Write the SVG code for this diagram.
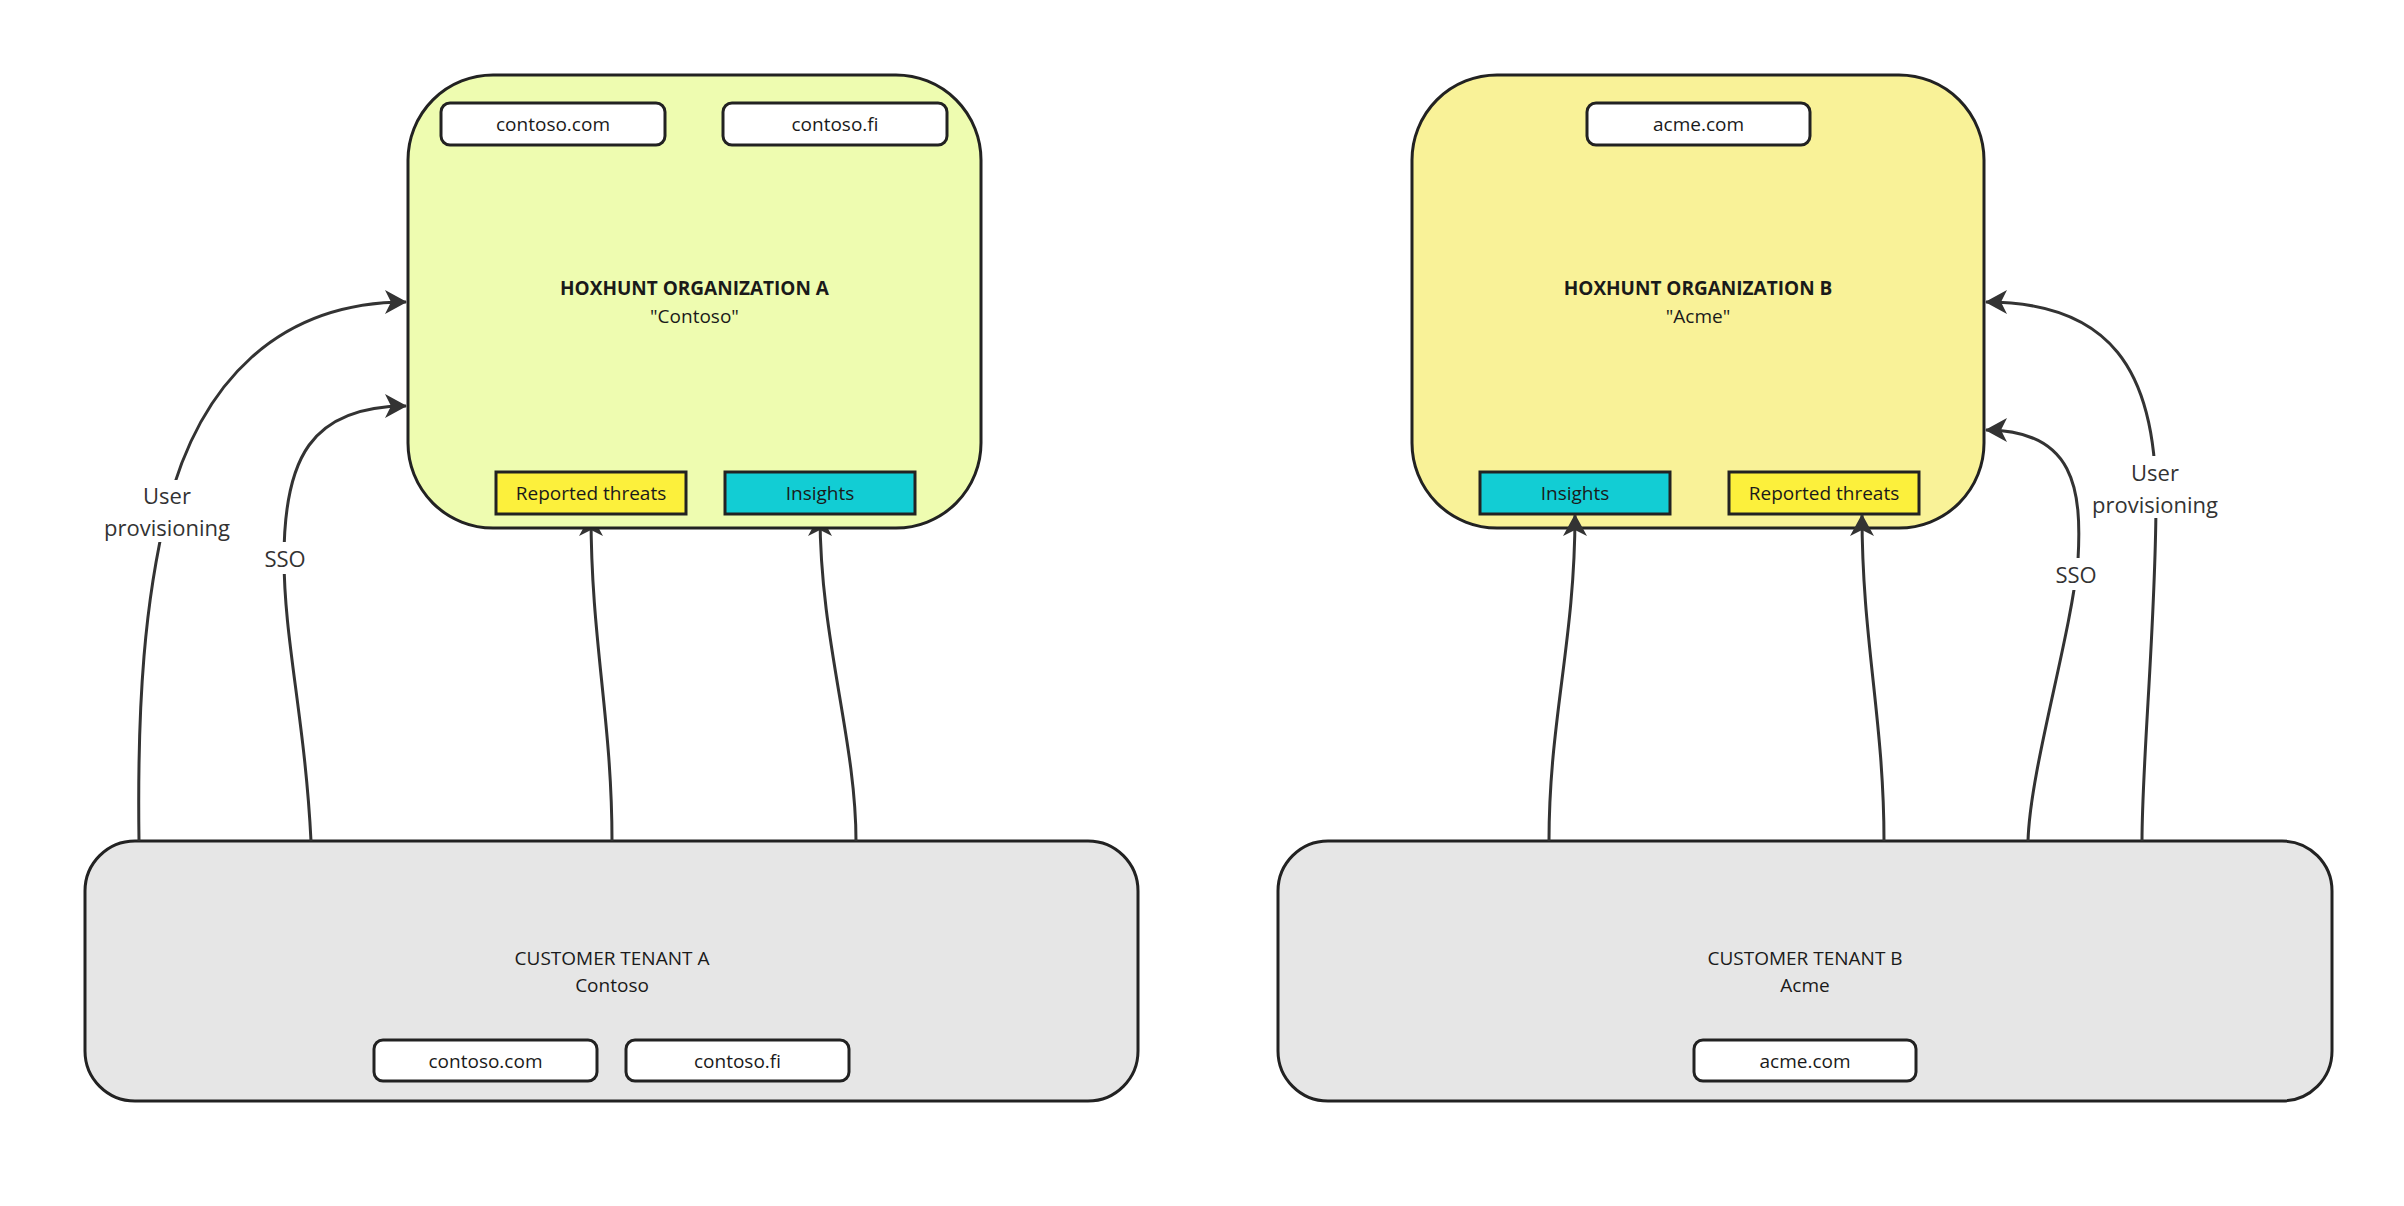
<svg xmlns="http://www.w3.org/2000/svg" width="2404" height="1206" viewBox="0 0 2404 1206">
<style>
text{font-family:"Open Sans","Noto Sans","Liberation Sans",sans-serif;fill:#1a1a1a;text-anchor:middle;dominant-baseline:central}
.org{stroke:#222;stroke-width:3}
.orgA{fill:#EEFCB0}
.orgB{fill:#F9F298}
.tenant{fill:#E6E6E6;stroke:#222;stroke-width:3}
.dom{fill:#fff;stroke:#222;stroke-width:3}
.rep{fill:#FCF03C;stroke:#222;stroke-width:3}
.ins{fill:#12CDD4;stroke:#222;stroke-width:3}
.title{font-size:19px;font-weight:700}
.sub{font-size:19px}
.lbl{font-size:19px}
.el{font-size:22px;fill:#333}
.conn{fill:none;stroke:#333;stroke-width:3}
.lblbg{fill:#fff}
</style>
<defs>
<marker id="arr" markerUnits="userSpaceOnUse" viewBox="0 0 22 24" refX="21" refY="12" markerWidth="22" markerHeight="24" orient="auto">
<path d="M0,0 L22,12 L0,24 L6,12 z" fill="#333"/>
</marker>
</defs>

<g id="tenant-a">
<rect class="tenant" x="85" y="841" width="1053" height="260" rx="50"/>
<text class="sub" x="612" y="958">CUSTOMER TENANT A</text>
<text class="sub" x="612" y="985">Contoso</text>
<g id="tenant-a-contoso-com"><rect class="dom" x="374" y="1040" width="223" height="41" rx="9"/><text class="lbl" x="485.5" y="1060.5">contoso.com</text></g>
<g id="tenant-a-contoso-fi"><rect class="dom" x="626" y="1040" width="223" height="41" rx="9"/><text class="lbl" x="737.5" y="1060.5">contoso.fi</text></g>
</g>

<g id="tenant-b">
<rect class="tenant" x="1278" y="841" width="1054" height="260" rx="50"/>
<text class="sub" x="1805" y="958">CUSTOMER TENANT B</text>
<text class="sub" x="1805" y="985">Acme</text>
<g id="tenant-b-acme-com"><rect class="dom" x="1694" y="1040" width="222" height="41" rx="9"/><text class="lbl" x="1805" y="1060.5">acme.com</text></g>
</g>

<g id="org-b">
<rect class="org orgB" x="1412" y="75" width="572" height="453" rx="85"/>
<text class="title" x="1698" y="288">HOXHUNT ORGANIZATION B</text>
<text class="sub" x="1698" y="316">"Acme"</text>
<g id="org-b-acme-com"><rect class="dom" x="1587" y="103" width="223" height="42" rx="9"/><text class="lbl" x="1698.5" y="124">acme.com</text></g>
<g id="org-b-insights"><rect class="ins" x="1480" y="472" width="190" height="42"/><text class="lbl" x="1575" y="493">Insights</text></g>
<g id="org-b-reported"><rect class="rep" x="1729" y="472" width="190" height="42"/><text class="lbl" x="1824" y="493">Reported threats</text></g>
</g>

<g id="connectors">
<path class="conn" marker-end="url(#arr)" d="M139,841 C137,700 145,600 167,510 C200,380 280,302 406,302"/>
<path class="conn" marker-end="url(#arr)" d="M311,841 C305,720 284,640 284,558 C284,460 310,406 406,406"/>
<path class="conn" marker-end="url(#arr)" d="M612,841 C612,720 591,640 591,515"/>
<path class="conn" marker-end="url(#arr)" d="M856,841 C856,740 820,640 820,515"/>
<path class="conn" marker-end="url(#arr)" d="M1549,841 C1549,720 1575,640 1575,515"/>
<path class="conn" marker-end="url(#arr)" d="M1884,841 C1884,720 1862,640 1862,515"/>
<path class="conn" marker-end="url(#arr)" d="M2028,841 C2030,770 2070,640 2078,560 C2082,490 2075,430 1986,430"/>
<path class="conn" marker-end="url(#arr)" d="M2142,841 C2142,760 2156,620 2156,500 C2156,370 2110,302 1986,302"/>
<g id="labels">
<rect class="lblbg" x="100" y="480" width="134" height="62"/>
<text class="el" x="167" y="495">User</text>
<text class="el" x="167" y="527">provisioning</text>
<rect class="lblbg" x="262" y="542" width="46" height="32"/>
<text class="el" x="285" y="558">SSO</text>
<rect class="lblbg" x="2053" y="558" width="46" height="32"/>
<text class="el" x="2076" y="574">SSO</text>
<rect class="lblbg" x="2089" y="456" width="134" height="62"/>
<text class="el" x="2155" y="472">User</text>
<text class="el" x="2155" y="504">provisioning</text>
</g>
</g>

<g id="org-a">
<rect class="org orgA" x="408" y="75" width="573" height="453" rx="85"/>
<text class="title" x="694.5" y="288">HOXHUNT ORGANIZATION A</text>
<text class="sub" x="694.5" y="316">"Contoso"</text>
<g id="org-a-contoso-com"><rect class="dom" x="441" y="103" width="224" height="42" rx="9"/><text class="lbl" x="553" y="124">contoso.com</text></g>
<g id="org-a-contoso-fi"><rect class="dom" x="723" y="103" width="224" height="42" rx="9"/><text class="lbl" x="835" y="124">contoso.fi</text></g>
<g id="org-a-reported"><rect class="rep" x="496" y="472" width="190" height="42"/><text class="lbl" x="591" y="493">Reported threats</text></g>
<g id="org-a-insights"><rect class="ins" x="725" y="472" width="190" height="42"/><text class="lbl" x="820" y="493">Insights</text></g>
</g>
</svg>
